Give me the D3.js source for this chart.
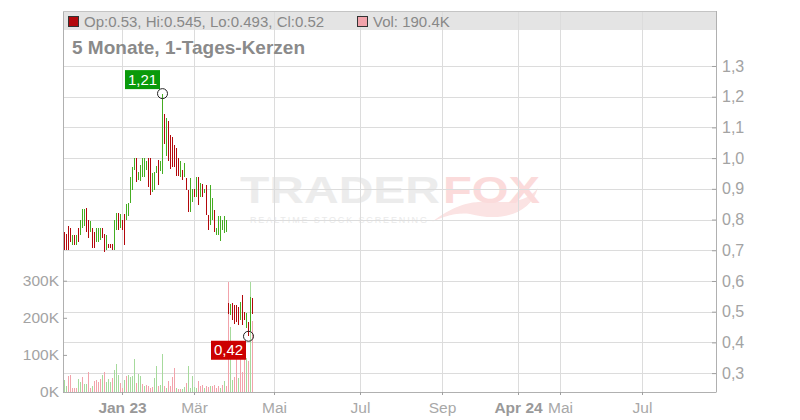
<!DOCTYPE html>
<html><head><meta charset="utf-8">
<script src="https://cdn.jsdelivr.net/npm/d3@7"></script>
<style>
body{margin:0;background:#fff}
svg{display:block;font-family:"Liberation Sans",Arial,Helvetica,sans-serif}
</style>
</head><body>
<svg id="chart" width="800" height="420"></svg>
<script>
// ---- data (slot = trading day index) ----
const high  = [.761,.752,.780,.772,.750,.750,.750,.772,.800,.833,.833,.837,.797,.794,.772,.761,.772,.772,.772,.772,
               .752,.750,.719,.719,.719,.800,.822,.822,.817,.800,.817,.850,.855,.940,.972,.999,.999,.956,.976,1.0,
               .999,.990,1.0,1.0,.951,.955,.975,.994,.990,1.21,1.143,1.132,1.121,1.075,1.070,1.043,1.032,1.002,.990,.960,
               .985,.935,.895,.935,.900,.900,.940,.940,.920,.915,.900,.911,.814,.911,.870,.831,.771,.810,.810,.800,
               .810,.800,.527,.524,.527,.522,.522,.516,.533,.555,.500,.497,.468,.549,.545];
const low   = [.700,.700,.700,.728,.717,.717,.717,.728,.750,.772,.778,.761,.739,.759,.706,.706,.728,.728,.733,.739,
               .694,.700,.708,.708,.700,.700,.767,.767,.772,.767,.717,.800,.810,.853,.896,.961,.923,.929,.927,.940,
               .940,.960,.907,.879,.891,.895,.950,.914,.958,.947,1.045,1.008,.990,.966,.970,.970,.943,.943,.940,.929,
               .940,.895,.824,.824,.856,.872,.872,.848,.875,.875,.885,.814,.766,.782,.800,.760,.750,.750,.730,.765,
               .755,.760,.494,.489,.472,.461,.466,.456,.472,.456,.472,.446,.420,.436,.493];
const open  = [.750,.745,.770,.765,.720,.745,.720,.770,.755,.775,.780,.830,.790,.760,.770,.755,.730,.730,.735,.770,
               .750,.705,.718,.718,.715,.705,.770,.820,.775,.795,.810,.800,.810,.855,.900,.965,.990,.930,.930,.945,
               .945,.960,.995,.990,.895,.900,.950,.990,.960,.950,1.140,1.010,1.110,1.070,1.060,1.040,1.030,1.000,.945,.955,
               .940,.930,.890,.830,.860,.895,.875,.935,.880,.910,.886,.905,.810,.785,.805,.830,.752,.755,.735,.770,
               .760,.765,.520,.495,.525,.520,.515,.510,.475,.550,.495,.450,.465,.440,.530];
const close = [.710,.705,.710,.735,.745,.720,.745,.730,.795,.830,.825,.765,.745,.790,.710,.710,.770,.765,.770,.740,
               .700,.745,.710,.710,.705,.795,.820,.770,.810,.770,.720,.845,.850,.935,.965,.995,.930,.950,.970,.995,
               .990,.985,.910,.885,.945,.950,.970,.920,.985,1.150,1.050,1.120,.995,.970,.975,.975,.950,.945,.985,.930,
               .980,.900,.830,.930,.895,.875,.935,.850,.915,.880,.898,.820,.770,.905,.865,.765,.770,.805,.800,.795,
               .800,.795,.500,.520,.480,.470,.470,.460,.530,.460,.475,.490,.425,.545,.520];
const volumeK = [33,15,44,46,12,12,12,36,27,40,22,22,54,12,15,29,31,26,35,46,
                 53,26,35,26,38,60,76,46,24,12,31,44,46,40,44,90,24,49,42,22,
                 15,18,15,12,13,39,69,17,20,103,17,11,29,15,41,64,11,8,8,9,
                 14,24,69,11,44,13,11,30,17,19,12,15,13,15,15,20,12,15,12,20,
                 29,15,296,176,33,40,113,38,97,55,96,91,84,296,190.4];
const volUp = "ggrrrrrggrggrrgrrrrgrgggrgggrrgrggggrggrgrrrrggrggrgrrrrgrrggrgggggrrrgrrgrrrrgrgrrggrrgrrrgrgr".split("").map(c=>c==="g");
const xTickSlots  = [29,65,105,148,189,227,248,289];
const xTickLabels = ["Jan 23","Mär","Mai","Jul","Sep","Apr 24","Mai","Jul"];
const xTickYear   = [true,false,false,false,false,true,false,false];
const priceTicks  = [0.3,0.4,0.5,0.6,0.7,0.8,0.9,1.0,1.1,1.2,1.3];
const volTicksK   = [0,100,200,300];
const subtitle = "5 Monate, 1-Tages-Kerzen";

// ---- layout ----
const L=63, R=716, T=11, B=392, HEAD=30;
const svg=d3.select("#chart");
const x=d3.scaleLinear().domain([-0.5,326]).range([L,R]);
const y=d3.scaleLinear().domain([0.2385,1.479]).range([B,T]);
const yv=d3.scaleLinear().domain([0,1027]).range([B,T]);
const de=d3.formatLocale({decimal:",",thousands:".",grouping:[3],currency:["","€"]});
const n=high.length, last=n-1;

// header bar
svg.append("rect").attr("x",L).attr("y",T).attr("width",R-L).attr("height",HEAD-T).attr("fill","#e4e4e4");

// watermark
const wm=svg.append("g").attr("opacity",0.9);
wm.append("text").attr("x",240).attr("y",203).attr("font-size",37).attr("font-weight","bold")
  .attr("textLength",200).attr("lengthAdjust","spacingAndGlyphs").attr("fill","#ebebeb").text("TRADER");
wm.append("path").attr("d","M432,222 C455,205 470,200 500,202 C520,203 532,196 538,188 C530,215 500,222 470,214 C455,212 440,218 432,222Z")
  .attr("fill","#fbe0e0");
wm.append("text").attr("x",443).attr("y",203).attr("font-size",37).attr("font-weight","bold")
  .attr("textLength",97).attr("lengthAdjust","spacingAndGlyphs").attr("fill","#fbd8d8").text("FOX");
wm.append("text").attr("x",250).attr("y",223).attr("font-size",9).attr("textLength",177)
  .attr("lengthAdjust","spacing").attr("fill","#e8e8e8").text("REALTIME STOCK SCREENING");

// grid
const grid=svg.append("g").attr("stroke","#dcdcdc").attr("stroke-width",1).attr("shape-rendering","crispEdges");
grid.selectAll("line.v").data(xTickSlots).join("line").attr("class","v")
  .attr("x1",d=>x(d)).attr("x2",d=>x(d)).attr("y1",T).attr("y2",B);
grid.selectAll("line.h").data(priceTicks).join("line").attr("class","h")
  .attr("x1",L).attr("x2",R).attr("y1",d=>Math.round(y(d))).attr("y2",d=>Math.round(y(d)));

// volume bars
svg.append("g").attr("shape-rendering","crispEdges").selectAll("rect").data(volumeK).join("rect")
  .attr("x",(d,i)=>Math.round(x(i))).attr("width",1)
  .attr("y",d=>yv(d)).attr("height",d=>B-yv(d))
  .attr("fill",(d,i)=>volUp[i]?"#a6da9c":"#f2a3ab");

// candles (OHLC, 1px wide)
const cg=svg.append("g").attr("shape-rendering","crispEdges");
const idx=d3.range(n);
cg.selectAll("rect.w").data(idx).join("rect").attr("class","w")
  .attr("x",i=>Math.round(x(i))).attr("width",1)
  .attr("y",i=>y(high[i])).attr("height",i=>Math.max(1,y(low[i])-y(high[i])))
  .attr("fill",i=>close[i]>=open[i]?"#45ad22":"#b3080c");

// axes
const right=d3.axisRight(y).tickValues(priceTicks).tickFormat(de.format(".1f")).tickSizeInner(-4).tickSizeOuter(0).tickPadding(6);
const gr=svg.append("g").attr("transform",`translate(${R},0)`).call(right);
gr.select(".domain").attr("d",`M0.5,${T}V${B}`);
const left=d3.axisLeft(yv).tickValues(volTicksK).tickFormat(d=>d+"K").tickSizeInner(-4).tickSizeOuter(0).tickPadding(6);
const gl=svg.append("g").attr("transform",`translate(${L},0)`).call(left);
const bottom=d3.axisBottom(x).tickValues(xTickSlots).tickFormat((d,i)=>xTickLabels[i]).tickSizeInner(3).tickSizeOuter(0).tickPadding(7);
const gb=svg.append("g").attr("transform",`translate(0,${B})`).call(bottom);
[gr,gl,gb].forEach(g=>{
  g.attr("font-family",null);
  g.select(".domain").attr("stroke","#b0b0b0");
  g.selectAll(".tick line").attr("stroke","#a0a0a0");
  g.selectAll(".tick text").attr("fill","#a3a3a3");
});
gr.selectAll(".tick text").attr("font-size",16);
gl.selectAll(".tick text").attr("font-size",15.5).attr("dx",2);
gb.selectAll(".tick text").attr("font-size",15.5)
  .attr("font-weight",(d,i)=>xTickYear[i]?"bold":"normal")
  .attr("fill",(d,i)=>xTickYear[i]?"#999":"#a8a8a8");
// top border
svg.append("line").attr("x1",L).attr("x2",R).attr("y1",T+0.5).attr("y2",T+0.5).attr("stroke","#c4c4c4");

// header legend
svg.append("rect").attr("x",68.5).attr("y",16.5).attr("width",10).attr("height",10)
  .attr("fill","#b3080c").attr("stroke","#333");
svg.append("text").attr("x",84).attr("y",26.5).attr("font-size",15).attr("fill","#888")
  .text(`Op:${open[last]}, Hi:${high[last]}, Lo:${low[last]}, Cl:${close[last]}`);
svg.append("rect").attr("x",357.5).attr("y",16.5).attr("width",10).attr("height",10)
  .attr("fill","#f2a3ab").attr("stroke","#333");
svg.append("text").attr("x",373).attr("y",26.5).attr("font-size",15).attr("fill","#888")
  .text(`Vol: ${volumeK[last]}K`);
svg.append("text").attr("x",72).attr("y",54).attr("font-size",19).attr("font-weight","bold")
  .attr("fill","#8a8a8a").text(subtitle);

// hi/lo markers
const hiI=d3.maxIndex(high), loI=d3.minIndex(low);
function marker(i,val,color,above){
  const cx=Math.round(x(i))+0.5, cy=y(val);
  const w=35,h=19;
  const bx=cx-2.5-w, by=above?cy-4.5-h:cy+4.5;
  svg.append("rect").attr("x",bx).attr("y",by).attr("width",w).attr("height",h).attr("fill",color);
  svg.append("text").attr("x",bx+w/2).attr("y",by+h/2+5).attr("text-anchor","middle")
    .attr("font-size",15).attr("fill","#fff").text(de.format(".2f")(val));
  svg.append("circle").attr("cx",cx).attr("cy",cy).attr("r",5).attr("fill","none").attr("stroke","#222");
}
marker(hiI,high[hiI],"#0a9a0a",true);
marker(loI,low[loI],"#cc0000",false);
</script>
</body></html>
